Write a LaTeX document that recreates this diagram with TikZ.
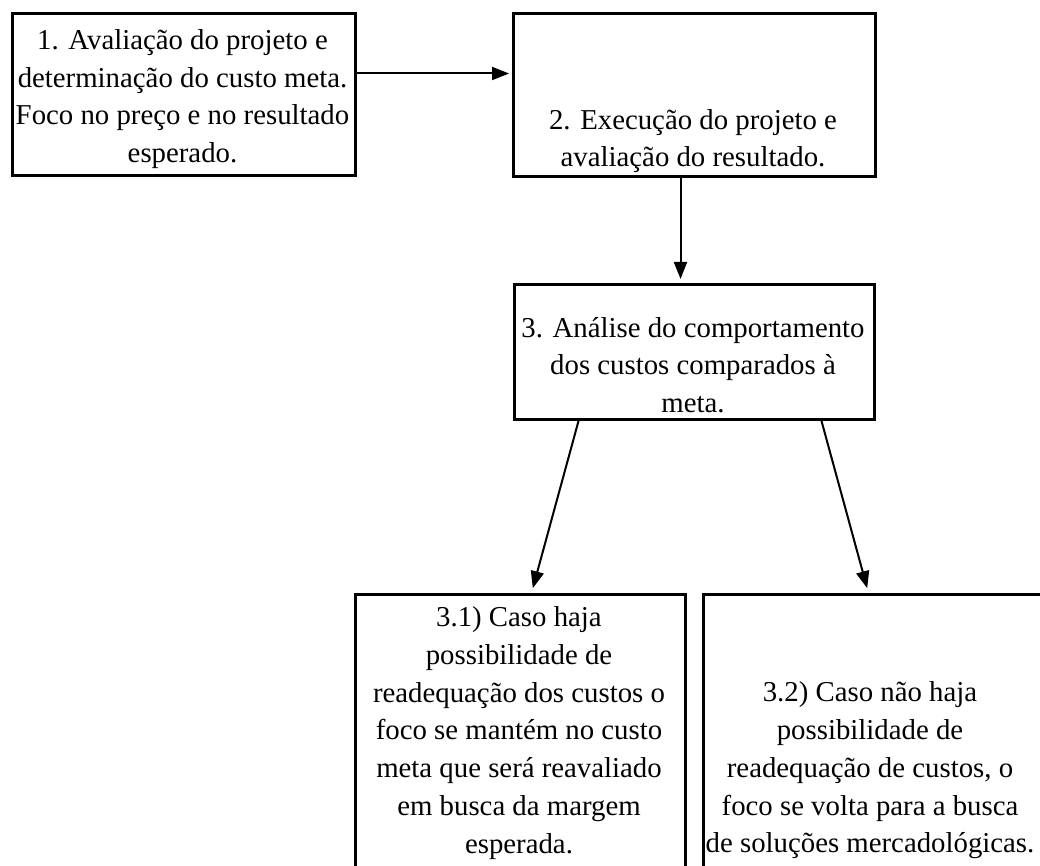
\documentclass[tikz,border=0pt]{standalone}
\usepackage{fontspec}
\setmainfont{Liberation Serif}
\usetikzlibrary{arrows.meta}
\begin{document}
\begin{tikzpicture}[x=1pt,y=-1pt,
  box/.style={draw=black, line width=3pt, rectangle, inner sep=0pt, anchor=north west},
  txt/.style={align=center, inner sep=0pt, font=\fontsize{28.8pt}{37.8pt}\selectfont},
  arr/.style={draw=black, line width=2pt, -{Triangle[length=17pt,width=13pt]}}]
\useasboundingbox (0,0) rectangle (1040,866);
\fill[white] (0,0) rectangle (1040,866);
\clip (0,0) rectangle (1040,866);
% boxes
\node[box, minimum width=343pt, minimum height=162pt] (b1) at (11,12) {};
\node[box, minimum width=362pt, minimum height=163pt] (b2) at (512,12) {};
\node[box, minimum width=360pt, minimum height=135pt] (b3) at (513,283) {};
\node[box, minimum width=330pt, minimum height=320pt] (b31) at (354,593) {};
\node[box, minimum width=360pt, minimum height=320pt] (b32) at (702,593) {};
% texts
\node[txt] (t1) at (182.5,99) {1. Avaliação do projeto e\\determinação do custo meta.\\Foco no preço e no resultado\\esperado.};
\node[txt] (t2) at (693,141) {2. Execução do projeto e\\avaliação do resultado.};
\node[txt] (t3) at (693,365) {3. Análise do comportamento\\dos custos comparados à\\meta.};
\node[txt] (t31) at (519,733) {3.1) Caso haja\\possibilidade de\\readequação dos custos o\\foco se mantém no custo\\meta que será reavaliado\\em busca da margem\\esperada.};
\node[txt] (t32) at (870,770.5) {3.2) Caso não haja\\possibilidade de\\readequação de custos, o\\foco se volta para a busca\\de soluções mercadológicas.};
% connectors
\draw[arr, shorten >=3pt] ([yshift=21pt]b1.east) -- ([yshift=21.5pt]b2.west);
\draw[arr, shorten >=4pt] ([xshift=-14pt]b2.south) -- ([xshift=-14pt]b3.north);
\draw[arr, shorten >=5pt] ([xshift=-116pt]b3.south) -- ([xshift=11pt]b31.north);
\draw[arr, shorten >=5pt] ([xshift=127pt]b3.south) -- ([xshift=-15pt]b32.north);
\end{tikzpicture}
\end{document}
